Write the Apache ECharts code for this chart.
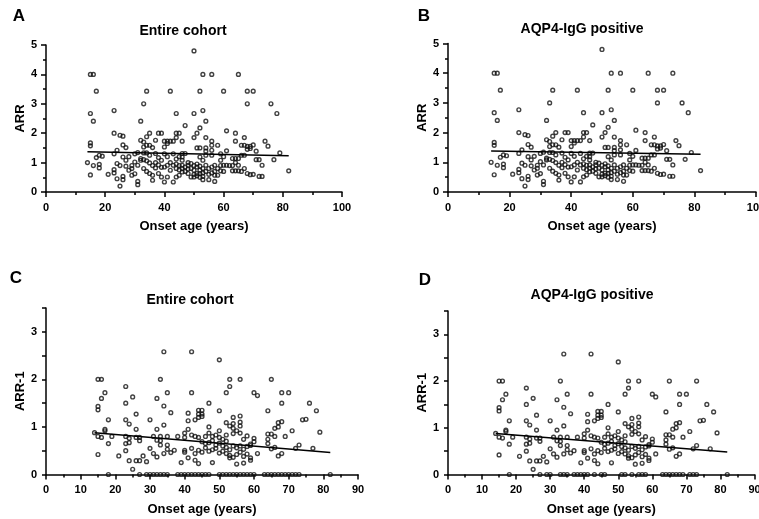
<!DOCTYPE html>
<html>
<head>
<meta charset="utf-8">
<script src="https://cdn.jsdelivr.net/npm/echarts@6/dist/echarts.min.js"></script>
<style>
  html, body { margin: 0; padding: 0; background: #fff; }
  #chart { width: 759px; height: 519px; }
</style>
</head>
<body>
<div id="chart"></div>
<script>
// panel texts
var panelLetters = ['A', 'B', 'C', 'D'];
var panelTitles = ['Entire cohort', 'AQP4-IgG positive', 'Entire cohort', 'AQP4-IgG positive'];
var yNames = ['ARR', 'ARR', 'ARR-1', 'ARR-1'];
var xName = 'Onset age (years)';

// [onset age, ARR] - entire cohort
var cohortArr = [
	[15, 4.0], [16, 4.0], [17, 3.43], [15, 2.67], [16, 2.41], [23, 2.77],
	[15, 1.67], [15, 1.57], [15, 0.58], [14, 1.0], [16, 0.9], [17, 1.17], [18, 1.25], [19, 1.22], [18, 0.94], [18, 0.82], [21, 0.6],
	[23, 2.0], [25, 1.93], [26, 1.9], [23, 1.3], [24, 1.42], [26, 1.6], [27, 1.51], [23, 0.76], [23, 0.65], [24, 0.45], [25, 0.2],
	[26, 0.53], [26, 0.42], [24, 0.97], [25, 0.9], [26, 1.19], [27, 1.08], [28, 0.74], [29, 0.8], [29, 0.57], [30, 0.62], [31, 0.36],
	[31, 0.25], [30, 1.02], [31, 0.91], [32, 1.08], [31, 1.34], [32, 2.41], [33, 3.0], [34, 3.43],
	[32, 1.76], [33, 1.7], [34, 1.88], [35, 2.0], [33, 1.53], [34, 1.59], [35, 1.59], [36, 1.51], [33, 1.33], [34, 1.33], [35, 1.25],
	[32, 1.14], [33, 1.1], [34, 1.06], [35, 0.99], [33, 0.8], [34, 0.7], [35, 0.63], [36, 0.57], [36, 0.4], [37, 1.76], [38, 2.0],
	[39, 2.0], [37, 1.31], [38, 1.17], [39, 1.08], [37, 0.82], [39, 0.84], [38, 0.63], [39, 0.51], [40, 1.53], [41, 1.65],
	[28, 1.2], [29, 0.9], [30, 1.3], [27, 0.88], [36, 0.9], [37, 1.0], [38, 0.92], [40, 1.3], [41, 1.2], [42, 1.0], [43, 1.3], [44, 1.12],
	[45, 1.2], [44, 0.95],
	[50, 4.8], [53, 4.0], [56, 4.0], [65, 4.0], [42, 3.43], [52, 3.43], [60, 3.43], [68, 3.43], [70, 3.43], [68, 3.0], [76, 3.0],
	[78, 2.67], [44, 2.67], [50, 2.67], [53, 2.77], [54, 2.41], [47, 2.26], [52, 2.18], [51, 2.0], [61, 2.08], [64, 2.0], [67, 1.85],
	[44, 2.0], [45, 2.0], [50, 1.85], [44, 1.85], [40, 1.73], [41, 1.73], [42, 1.73], [43, 1.73], [46, 1.73], [54, 1.85], [56, 1.73],
	[56, 1.59], [58, 1.59], [64, 1.73], [66, 1.59], [67, 1.59], [68, 1.55], [69, 1.48], [68, 1.45], [74, 1.73], [75, 1.56], [71, 1.39],
	[79, 1.33], [51, 1.5], [52, 1.5], [54, 1.5], [54, 1.39], [56, 1.42], [56, 1.25], [59, 1.3], [63, 1.14], [64, 1.14], [65, 1.14],
	[66, 1.25], [67, 1.25], [71, 1.1], [72, 1.1], [77, 1.1], [73, 0.91], [82, 0.72], [72, 0.53], [73, 0.53], [68, 0.63], [69, 0.59],
	[67, 0.8], [65, 0.72], [65, 0.91], [63, 0.72], [64, 0.72], [61, 0.91], [60, 0.91], [59, 1.08], [59, 0.72], [58, 0.57], [57, 0.91],
	[57, 0.7], [57, 0.57], [57, 0.36], [55, 0.42], [53, 0.42], [53, 0.53], [52, 0.63], [52, 0.74], [50, 0.51], [51, 0.63], [50, 0.74],
	[51, 0.85], [49, 0.8], [48, 0.91], [49, 0.97], [48, 0.63], [49, 0.51], [46, 0.91], [46, 0.8], [46, 0.68], [45, 0.57], [44, 0.51],
	[43, 0.34], [41, 0.51], [40, 0.34], [42, 0.74], [43, 0.91], [44, 0.8], [46, 1.31], [46, 1.19], [46, 1.08], [47, 1.31], [52, 1.19],
	[53, 1.08], [54, 1.25], [54, 0.91], [55, 0.8], [41, 0.91], [40, 0.85],
	[47, 0.85], [48, 0.78], [50, 0.9], [51, 0.95], [52, 0.88], [53, 0.8], [54, 0.7], [55, 0.6], [56, 0.85], [50, 0.6], [51, 0.55],
	[52, 0.5], [53, 0.65], [47, 0.7], [45, 0.9], [45, 0.75], [48, 1.0], [56, 0.65], [58, 0.8], [59, 0.9], [60, 0.7],
	[61, 1.4], [62, 0.9], [60, 1.2], [63, 0.9], [64, 1.0], [66, 0.7], [70, 1.6], [69, 1.55], [70, 0.6]
];
// extra point only seen in the AQP4-IgG positive panel
var aqp4ExtraArr = [[73, 4.0]];

// [onset age, ARR-1] - entire cohort, values above zero
var cohortArr1 = [
	[34, 2.58], [15, 2.0], [16, 2.0], [33, 2.0], [17, 1.72], [23, 1.85], [16, 1.6], [15, 1.43], [15, 1.36], [23, 1.5], [25, 1.63],
	[32, 1.6], [35, 1.72], [34, 1.44], [36, 1.3], [18, 1.15], [23, 1.15], [24, 1.06], [26, 1.27], [30, 1.15], [34, 1.04], [41, 1.29],
	[14, 0.88], [15, 0.8], [16, 0.78], [17, 0.95], [17, 0.92], [19, 0.8], [18, 0.65], [15, 0.42], [21, 0.39], [23, 0.8], [24, 0.76],
	[23, 0.65], [24, 0.67], [23, 0.5], [24, 0.29], [25, 0.11], [26, 0.95], [26, 0.78], [27, 0.78], [27, 0.71], [27, 0.29], [26, 0.29],
	[28, 0.39], [29, 0.27], [30, 0.55], [31, 0.8], [32, 0.72], [31, 0.44], [32, 0.95], [32, 0.37], [33, 0.8], [33, 0.71], [33, 0.62],
	[34, 0.44], [35, 0.8], [35, 0.62], [35, 0.53], [36, 0.46], [37, 0.51], [38, 0.8], [40, 0.87], [40, 0.78], [40, 0.51], [40, 0.47],
	[41, 0.35], [39, 0.25], [41, 1.13], [41, 0.95],
	[42, 2.58], [50, 2.41], [42, 1.72], [53, 2.0], [56, 2.0], [53, 1.85], [52, 1.72], [65, 2.0], [60, 1.72], [61, 1.66], [68, 1.72],
	[70, 1.72], [68, 1.5], [76, 1.5], [78, 1.34], [47, 1.5], [44, 1.35], [45, 1.35], [44, 1.27], [45, 1.27], [43, 1.15], [44, 1.2],
	[45, 1.22], [50, 1.34], [64, 1.34], [74, 1.15], [75, 1.16], [79, 0.89], [71, 0.92], [67, 1.09], [68, 1.11], [66, 0.97], [67, 1.0],
	[64, 0.85], [65, 0.85], [66, 0.8], [69, 0.8], [64, 0.74], [64, 0.65], [65, 0.54], [66, 0.57], [67, 0.39], [68, 0.44], [72, 0.55],
	[73, 0.62], [77, 0.55], [61, 0.44], [60, 0.76], [60, 0.69], [59, 0.64], [58, 0.81], [57, 0.74], [56, 1.23], [56, 1.1], [56, 1.02],
	[54, 1.2], [54, 1.07], [52, 1.09], [53, 1.02], [54, 0.97], [55, 0.92], [54, 0.86], [56, 0.87], [50, 0.92], [49, 0.83], [52, 0.83],
	[47, 1.0], [47, 0.87], [48, 0.8], [46, 0.8], [50, 0.78], [51, 0.74], [52, 0.7], [42, 0.83], [43, 0.8], [44, 0.78], [45, 0.69],
	[46, 0.65], [47, 0.67], [48, 0.71], [49, 0.62], [50, 0.66], [51, 0.6], [52, 0.57], [53, 0.52], [54, 0.6], [55, 0.56], [56, 0.6],
	[57, 0.53], [58, 0.59], [59, 0.61], [42, 0.55], [43, 0.44], [44, 0.51], [45, 0.47], [46, 0.56], [47, 0.49], [48, 0.52], [49, 0.55],
	[50, 0.45], [51, 0.49], [52, 0.44], [53, 0.4], [54, 0.36], [55, 0.42], [56, 0.47], [57, 0.38], [58, 0.43], [59, 0.35],
	[43, 0.3], [44, 0.23], [48, 0.25], [53, 0.35], [55, 0.22], [57, 0.24], [59, 0.3]
];
// onset ages of patients with ARR-1 = 0
var cohortArr1ZeroAges = [18, 27, 29, 30, 31, 32, 33, 34, 35, 38, 39, 40, 41, 42, 43, 44, 45, 46, 47, 50, 51, 52, 53, 54, 55,
	56, 57, 58, 59, 60, 63, 64, 65, 66, 67, 68, 69, 70, 71, 72, 73, 82];
var aqp4Arr1ZeroAges = [18, 27, 29, 30, 33, 34, 35, 37, 38, 39, 40, 41, 43, 45, 46, 51, 52, 54, 56, 57, 58, 63, 64, 65, 66, 67,
	68, 69, 71, 72, 73, 82];
var aqp4ExtraArr1 = [[73, 2.0]];

// regression lines, end points
var fitA = [[14, 1.37], [82, 1.23]];
var fitB = [[14, 1.38], [82, 1.27]];
var fitC = [[14, 0.88], [82, 0.46]];
var fitD = [[14, 0.88], [82, 0.48]];

// axis ranges
var xMax = [100, 100, 90, 90];
var xStep = [20, 20, 10, 10];
var yMax = [5, 5, 3.5, 3.5];
var yStep = [1, 1, 0.5, 0.5];

function zeros(ages) {
	return ages.map(function(a) { return [a, 0]; });
}

var panelData = [
	cohortArr,
	cohortArr.concat(aqp4ExtraArr),
	cohortArr1.concat(zeros(cohortArr1ZeroAges)),
	cohortArr1.concat(aqp4ExtraArr1).concat(zeros(aqp4Arr1ZeroAges))
];
var panelFits = [fitA, fitB, fitC, fitD];

var grids = [
	{ left: 46, top: 45, width: 296, height: 147, outerBoundsMode: 'none' },
	{ left: 448, top: 43.5, width: 308, height: 148.5, outerBoundsMode: 'none' },
	{ left: 46, top: 308, width: 312, height: 166.5, outerBoundsMode: 'none' },
	{ left: 448, top: 311, width: 306.5, height: 163.5, outerBoundsMode: 'none' }
];
var titlePos = [[183, 31], [582, 29], [190, 300], [592, 295]];
var letterPos = [[19, 16], [424, 16], [16, 278], [425, 280]];
var yNameGap = [14, 17, 19, 17];

var font = 'Liberation Sans, Arial, sans-serif';
var lineStyle = { color: '#000', width: 1.5 };

var titles = [];
var xAxes = [];
var yAxes = [];
var series = [];

for (var i = 0; i < 4; i++) {
	titles.push({
		text: panelTitles[i],
		left: titlePos[i][0],
		top: titlePos[i][1],
		textAlign: 'center',
		textVerticalAlign: 'middle',
		padding: 0,
		textStyle: { fontFamily: font, fontSize: 14, fontWeight: 'bold', color: '#000' }
	});
	titles.push({
		text: panelLetters[i],
		left: letterPos[i][0],
		top: letterPos[i][1],
		textAlign: 'center',
		textVerticalAlign: 'middle',
		padding: 0,
		textStyle: { fontFamily: font, fontSize: 17, fontWeight: 'bold', color: '#000' }
	});

	xAxes.push({
		gridIndex: i,
		type: 'value',
		min: 0,
		max: xMax[i],
		interval: xStep[i],
		name: xName,
		nameLocation: 'middle',
		nameGap: 28,
		nameTextStyle: { fontFamily: font, fontSize: 13, fontWeight: 'bold', color: '#000' },
		axisLine: { show: true, onZero: false, lineStyle: lineStyle },
		axisTick: { show: true, length: 5, lineStyle: lineStyle },
		minorTick: { show: true, splitNumber: 2, length: 3, lineStyle: lineStyle },
		splitLine: { show: false },
		axisLabel: { margin: 10, fontFamily: font, fontSize: 11, fontWeight: 'bold', color: '#000' }
	});

	yAxes.push({
		gridIndex: i,
		type: 'value',
		min: 0,
		max: yMax[i],
		interval: yStep[i],
		name: yNames[i],
		nameLocation: 'middle',
		nameGap: yNameGap[i],
		nameTextStyle: { fontFamily: font, fontSize: 13, fontWeight: 'bold', color: '#000' },
		axisLine: { show: true, lineStyle: lineStyle },
		axisTick: { show: true, length: i < 2 ? 5 : 4, lineStyle: lineStyle },
		minorTick: { show: i < 2, splitNumber: 2, length: 3, lineStyle: lineStyle },
		splitLine: { show: false },
		axisLabel: {
			margin: 9,
			fontFamily: font,
			fontSize: 11,
			fontWeight: 'bold',
			color: '#000',
			formatter: function(v) {
				return v % 1 === 0 ? String(v) : '';
			}
		}
	});

	series.push({
		type: 'scatter',
		xAxisIndex: i,
		yAxisIndex: i,
		data: panelData[i],
		symbol: 'circle',
		symbolSize: 3.8,
		clip: false,
		silent: true,
		itemStyle: { color: 'rgba(255,255,255,0)', borderColor: '#111', borderWidth: 1.4 }
	});
	series.push({
		type: 'line',
		xAxisIndex: i,
		yAxisIndex: i,
		data: panelFits[i],
		showSymbol: false,
		clip: false,
		silent: true,
		lineStyle: { color: '#000', width: 1.5 }
	});
}

var myChart = echarts.init(document.getElementById('chart'));
myChart.setOption({
	animation: false,
	backgroundColor: '#fff',
	title: titles,
	grid: grids,
	xAxis: xAxes,
	yAxis: yAxes,
	series: series
});
</script>
</body>
</html>
